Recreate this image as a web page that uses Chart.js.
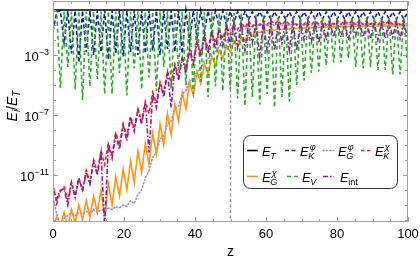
<!DOCTYPE html>
<html>
<head>
<meta charset="utf-8">
<script src="https://cdn.jsdelivr.net/npm/chart.js@4/dist/chart.umd.min.js"></script>
<style>
  html, body { margin: 0; padding: 0; background: #fff; }
  #wrap { width: 420px; height: 259px; }
</style>
</head>
<body>
<div id="wrap"><canvas id="chart"></canvas></div>
<script>
// z sample positions (shared by the oscillating series)
const zGrid = [0, 1.04, 2.08, 3.12, 4.16, 5.2, 6.24, 7.28, 8.32, 9.36,
  10.4, 11.44, 12.48, 13.52, 14.56, 15.6, 16.64, 17.68, 18.72, 19.76,
  20.8, 21.84, 22.88, 23.92, 24.96, 26, 27.04, 28.08, 29.12, 30.16,
  31.2, 32.24, 33.28, 34.32, 35.36, 36.4, 37.44, 38.48, 39.52, 40.56,
  41.6, 42.64, 43.68, 44.72, 45.76, 46.8, 47.84, 48.88, 49.92, 50.96,
  52, 53.04, 54.08, 55.12, 56.16, 57.2, 58.24, 59.28, 60.32, 61.36,
  62.4, 63.44, 64.48, 65.52, 66.56, 67.6, 68.64, 69.68, 70.72, 71.76,
  72.8, 73.84, 74.88, 75.92, 76.96, 78, 79.04, 80.08, 81.12, 82.16,
  83.2, 84.24, 85.28, 86.32, 87.36, 88.4, 89.44, 90.48, 91.52, 92.56,
  93.6, 94.64, 95.68, 96.72, 97.76, 98.8, 100];

// all values below are log10(E_i/E_T)
const zT = [0, 100];
const logT = [0, 0];

const logKphi = [-1.4, -0.15, -0.04, -2.2, -0.04, -2.9, -0.04, -3.5, -0.04, -2.8,
  -0.04, -3.0, -0.04, -2.8, -0.04, -3.3, -0.04, -2.9, -0.04, -3.1,
  -0.04, -2.8, -0.04, -3.0, -0.04, -2.9, -0.04, -2.7, -0.04, -3.0,
  -0.04, -2.6, -0.04, -2.8, -0.04, -2.9, -0.04, -2.1, -0.05, -1.8,
  -0.05, -1.5, -0.06, -1.25, -0.07, -1.1, -0.08, -1.0, -0.09, -0.85,
  -0.1, -0.75, -0.1, -0.65, -0.12, -0.6, -0.12, -0.6, -0.12, -0.62,
  -0.12, -0.6, -0.12, -0.62, -0.13, -0.6, -0.12, -0.6, -0.13, -0.62,
  -0.12, -0.6, -0.12, -0.6, -0.13, -0.62, -0.12, -0.6, -0.12, -0.6,
  -0.13, -0.62, -0.12, -0.6, -0.12, -0.6, -0.13, -0.62, -0.12, -0.6,
  -0.12, -0.6, -0.13, -0.62, -0.12, -0.6, -0.12];

const logGphi = [-12.5, -13.6, -14.3, -13.9, -13.7, -13.5, -13.7, -13.5, -13.6, -13.4,
  -13.6, -13.3, -13.5, -13.3, -13.4, -13.2, -13.3, -13.1, -13.2, -13.0,
  -13.1, -12.7, -12.9, -12.3, -12.0, -11.2, -10.7, -9.8, -9.5, -8.6,
  -8.4, -7.6, -7.4, -6.6, -6.4, -5.6, -5.4, -4.7, -4.6, -4.1,
  -3.9, -3.4, -3.3, -2.9, -2.8, -2.4, -2.3, -2.0, -1.9, -1.6,
  -1.5, -1.3, -1.25, -1.1, -1.1, -0.95, -1.05, -0.9, -1.05, -0.9,
  -1.05, -0.9, -1.05, -0.88, -1.05, -0.9, -1.02, -0.88, -1.05, -0.9,
  -1.02, -0.88, -1.0, -0.9, -1.02, -0.88, -1.0, -0.88, -1.0, -0.9,
  -1.0, -0.88, -1.0, -0.86, -1.0, -0.88, -0.98, -0.86, -1.0, -0.88,
  -0.98, -0.86, -1.0, -0.86, -0.98, -0.86, -0.95];

const logKchi = [-11.7, -12.9, -12.1, -11.8, -12.7, -11.5, -12.4, -11.2, -12.0, -10.7,
  -11.5, -10.0, -10.8, -9.4, -10.3, -8.9, -9.7, -8.2, -9.0, -7.6,
  -8.4, -7.1, -7.9, -6.6, -7.4, -6.1, -6.9, -5.5, -6.2, -4.8,
  -5.5, -4.1, -4.9, -3.6, -4.4, -3.1, -3.9, -2.6, -3.4, -2.1,
  -2.9, -1.7, -2.6, -1.5, -2.2, -1.3, -1.9, -1.1, -1.6, -0.9,
  -1.3, -0.8, -1.2, -0.75, -1.1, -0.7, -1.0, -0.7, -0.95, -0.7,
  -0.95, -0.7, -1.0, -0.7, -0.95, -0.72, -1.0, -0.7, -0.95, -0.7,
  -0.95, -0.72, -0.95, -0.7, -1.0, -0.7, -0.95, -0.7, -0.95, -0.72,
  -0.95, -0.7, -1.0, -0.7, -0.95, -0.7, -0.95, -0.72, -1.0, -0.7,
  -0.95, -0.7, -0.95, -0.72, -1.0, -0.7, -0.9];

const logGchi = [-14.5, -13.8, -14.4, -13.5, -14.5, -13.3, -14.2, -13.0, -14.0, -12.7,
  -13.8, -12.4, -13.5, -12.0, -13.9, -11.6, -13.0, -11.1, -12.4, -10.6,
  -12.0, -10.1, -11.5, -9.4, -10.8, -8.9, -10.3, -8.2, -9.6, -7.6,
  -9.0, -6.9, -8.3, -6.3, -7.4, -5.5, -6.6, -4.8, -5.7, -4.1,
  -4.9, -3.6, -4.3, -3.1, -3.7, -2.7, -3.2, -2.4, -2.8, -2.1,
  -2.4, -1.8, -2.0, -1.6, -1.7, -1.45, -1.5, -1.35, -1.4, -1.3,
  -1.35, -1.25, -1.3, -1.2, -1.28, -1.18, -1.25, -1.15, -1.22, -1.12,
  -1.2, -1.1, -1.18, -1.08, -1.15, -1.08, -1.15, -1.05, -1.12, -1.05,
  -1.12, -1.05, -1.1, -1.05, -1.1, -1.03, -1.1, -1.03, -1.08, -1.02,
  -1.08, -1.02, -1.08, -1.0, -1.06, -1.0, -1.05];

const logV = [-0.05, -0.1, -5.2, -0.08, -3.8, -0.1, -5.3, -0.06, -6.0, -0.1,
  -5.1, -0.07, -4.6, -0.1, -5.6, -0.08, -5.6, -0.1, -4.2, -0.07,
  -5.7, -0.1, -3.9, -0.08, -5.3, -0.1, -4.5, -0.09, -5.4, -0.1,
  -3.8, -0.08, -5.3, -0.12, -4.0, -0.1, -5.0, -0.12, -5.6, -0.1,
  -4.8, -0.15, -5.8, -0.12, -5.1, -0.18, -5.4, -0.15, -5.3, -0.2,
  -5.9, -0.25, -6.4, -0.3, -5.8, -0.3, -6.3, -0.35, -5.6, -0.35,
  -6.5, -0.4, -5.8, -0.4, -6.1, -0.45, -5.0, -0.4, -4.7, -0.45,
  -4.2, -0.45, -4.1, -0.5, -3.7, -0.45, -3.5, -0.5, -3.5, -0.5,
  -3.2, -0.5, -3.8, -0.45, -3.9, -0.5, -3.8, -0.5, -4.0, -0.45,
  -4.0, -0.5, -4.3, -0.5, -4.3, -0.45, -4.0];

const logInt = [-11.8, -12.6, -12.0, -11.9, -13.0, -11.5, -12.5, -11.2, -12.1, -10.8,
  -11.6, -10.1, -11.0, -9.5, -14.5, -9.0, -9.9, -8.3, -9.3, -7.7,
  -8.7, -7.2, -8.1, -6.7, -7.6, -6.2, -9.5, -5.6, -6.5, -4.9,
  -5.8, -4.2, -6.5, -3.7, -4.7, -3.2, -4.2, -2.7, -3.6, -2.2,
  -3.1, -1.8, -2.9, -1.5, -2.6, -1.3, -2.4, -1.1, -2.3, -0.9,
  -2.5, -0.8, -2.7, -0.8, -2.2, -0.8, -3.1, -0.8, -2.7, -0.8,
  -2.7, -0.8, -2.2, -0.8, -2.7, -0.82, -2.7, -0.8, -2.0, -0.8,
  -2.1, -0.82, -2.2, -0.8, -2.0, -0.8, -1.8, -0.8, -1.8, -0.82,
  -2.0, -0.8, -1.7, -0.8, -1.8, -0.8, -1.9, -0.82, -2.0, -0.8,
  -1.9, -0.8, -1.8, -0.8, -1.9, -0.8, -2.0];

const xTicksMajor = [0, 20, 40, 60, 80, 100];
const yTickLabels = [-3, -7, -11];
const zMark = 50;

const fam = '"Liberation Sans", Arial, sans-serif';
const fontOf = (size, italic) => (italic ? 'italic ' : '') + size + 'px ' + fam;

function pts(zs, logs) {
  return logs.map((v, i) => ({ x: zs[i], y: Math.pow(10, v) }));
}

function line(label, zs, logs, color, dash, order, extra) {
  return Object.assign({
    label: label,
    data: pts(zs, logs),
    borderColor: color,
    borderWidth: 1.6,
    borderDash: dash,
    pointRadius: 0,
    tension: 0,
    fill: false,
    clip: 0,
    order: order
  }, extra || {});
}

// draws a sequence of [text, size, italic, dy] runs
function drawRuns(ctx, runs, x, y, align) {
  let w = 0;
  runs.forEach(r => { ctx.font = fontOf(r[1], r[2]); w += ctx.measureText(r[0]).width; });
  let cx = align === 'right' ? x - w : (align === 'center' ? x - w / 2 : x);
  runs.forEach(r => {
    ctx.font = fontOf(r[1], r[2]);
    ctx.fillText(r[0], cx, y + (r[3] || 0));
    cx += ctx.measureText(r[0]).width;
  });
}

// E with stacked sub/superscript
function drawSym(ctx, x, y, sub, subItalic, sup) {
  ctx.font = fontOf(13, true);
  ctx.fillText('E', x, y);
  const sx = x + ctx.measureText('E').width - 0.5;
  if (sub) { ctx.font = fontOf(9, subItalic); ctx.fillText(sub, sx, y + 3); }
  if (sup) { ctx.font = fontOf(9, true); ctx.fillText(sup, sx + 1.5, y - 6); }
}

// [dataset index, swatch x, text x, row, sub, subItalic, sup]
const legendItems = [
  [0, 247, 262, 0, 'T', true, null],
  [1, 285, 300, 0, 'K', true, 'φ'],
  [2, 323, 338, 0, 'G', true, 'φ'],
  [3, 361, 375, 0, 'K', true, 'χ'],
  [4, 247, 262, 1, 'G', true, 'χ'],
  [5, 287, 302, 1, 'V', true, null],
  [6, 323, 340, 1, 'int', false, null]
];

const decor = {
  id: 'decor',
  beforeDatasetsDraw(chart) {
    const ctx = chart.ctx, a = chart.chartArea;
    const px = chart.scales.x.getPixelForValue(zMark);
    ctx.save();
    ctx.strokeStyle = '#9a9a9a';
    ctx.lineWidth = 1.5;
    ctx.setLineDash([3, 2.5]);
    ctx.beginPath();
    ctx.moveTo(px, a.top);
    ctx.lineTo(px, a.bottom);
    ctx.stroke();
    ctx.restore();
  },
  afterDraw(chart) {
    const ctx = chart.ctx, a = chart.chartArea;
    const xs = chart.scales.x, ys = chart.scales.y;
    ctx.save();
    // frame
    ctx.strokeStyle = '#a0a0a0';
    ctx.lineWidth = 1;
    ctx.strokeRect(a.left + 0.5, a.top + 0.5, a.right - a.left - 1, a.bottom - a.top - 1);
    // x ticks
    ctx.beginPath();
    for (let z = 0; z <= 100; z += 5) {
      const p = Math.round(xs.getPixelForValue(z)) + 0.5;
      const len = z % 20 === 0 ? 5 : 3;
      ctx.moveTo(p, a.bottom); ctx.lineTo(p, a.bottom - len);
      ctx.moveTo(p, a.top); ctx.lineTo(p, a.top + len);
    }
    // y ticks every decade
    for (let e = -14; e <= 0; e++) {
      const p = Math.round(ys.getPixelForValue(Math.pow(10, e))) + 0.5;
      const len = yTickLabels.includes(e) ? 5 : 3;
      ctx.moveTo(a.left, p); ctx.lineTo(a.left + len, p);
      ctx.moveTo(a.right, p); ctx.lineTo(a.right - len, p);
    }
    ctx.stroke();

    ctx.fillStyle = '#000';
    ctx.textAlign = 'left';
    ctx.textBaseline = 'alphabetic';
    // x tick labels
    xTicksMajor.forEach(z => {
      drawRuns(ctx, [[String(z), 13, false, 0]], xs.getPixelForValue(z), 238, 'center');
    });
    // y tick labels
    yTickLabels.forEach(e => {
      const p = ys.getPixelForValue(Math.pow(10, e));
      drawRuns(ctx, [['10', 13, false, 0], ['\u2212' + Math.abs(e), 9, false, -6]], 49, p + 6, 'right');
    });
    // axis titles
    drawRuns(ctx, [['z', 14, false, 0]], (a.left + a.right) / 2, 256, 'center');
    ctx.save();
    ctx.translate(16.5, 106);
    ctx.rotate(-Math.PI / 2);
    drawRuns(ctx, [['E', 14, true, 0], ['i', 10, true, 3], ['/', 14, false, 0],
                   ['E', 14, true, 0], ['T', 10, true, 3]], 0, 0, 'center');
    ctx.restore();

    // legend
    ctx.beginPath();
    ctx.roundRect(243.5, 135.5, 154, 53, 7);
    ctx.fillStyle = '#fff';
    ctx.fill();
    ctx.strokeStyle = '#333';
    ctx.lineWidth = 1;
    ctx.setLineDash([]);
    ctx.stroke();
    legendItems.forEach(it => {
      const ds = chart.data.datasets[it[0]];
      const rowY = it[3] === 0 ? 150.5 : 176.5;
      ctx.save();
      ctx.strokeStyle = ds.borderColor;
      ctx.lineWidth = 1.6;
      ctx.lineCap = ds.borderCapStyle || 'butt';
      ctx.setLineDash(ds.borderDash || []);
      ctx.beginPath();
      ctx.moveTo(it[1], rowY);
      ctx.lineTo(it[1] + 11, rowY);
      ctx.stroke();
      ctx.restore();
      ctx.fillStyle = '#000';
      drawSym(ctx, it[2], rowY + 5, it[4], it[5], it[6]);
    });
    ctx.restore();
  }
};

new Chart(document.getElementById('chart').getContext('2d'), {
  type: 'line',
  data: {
    datasets: [
      line('E_T', zT, logT, '#000000', [], 0),
      line('E_K^phi', zGrid, logKphi, '#1a1aa6', [4, 2.5], 6),
      line('E_G^phi', zGrid, logGphi, '#8f8fff', [1.2, 2.3], 5, { borderCapStyle: 'round' }),
      line('E_K^chi', zGrid, logKchi, '#ff1a1a', [3.5, 2.5], 4),
      line('E_G^chi', zGrid, logGchi, '#ff9419', [], 3),
      line('E_V', zGrid, logV, '#2aae2a', [4, 3], 2),
      line('E_int', zGrid, logInt, '#8c1f9c', [5, 2, 1.5, 2], 1)
    ]
  },
  options: {
    responsive: true,
    maintainAspectRatio: false,
    animation: false,
    devicePixelRatio: 1,
    layout: { padding: { left: 53, right: 12, top: 1, bottom: 37 } },
    plugins: {
      legend: { display: false },
      tooltip: { enabled: false }
    },
    scales: {
      x: { type: 'linear', min: 0, max: 100, display: false },
      y: { type: 'logarithmic', min: Math.pow(10, -14.13), max: Math.pow(10, 0.6), display: false }
    }
  },
  plugins: [decor]
});
</script>
</body>
</html>
